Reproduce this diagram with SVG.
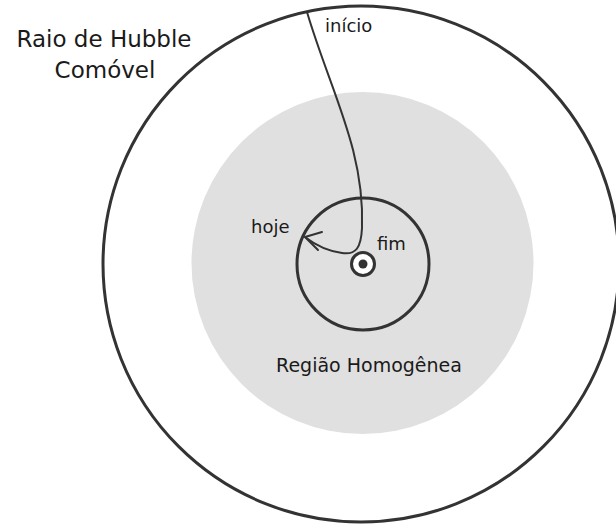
<svg xmlns="http://www.w3.org/2000/svg" width="616" height="529" viewBox="0 0 616 529">
<style>
.ring{fill:none;stroke:#333;stroke-width:3}
.t{font-family:"DejaVu Sans",sans-serif;fill:#1a1a1a}
.c{fill:none;stroke:#333;stroke-width:2;stroke-linecap:round;stroke-linejoin:round}
</style>
<rect width="616" height="529" fill="#fff"/>
<g id="outer">
<circle cx="361" cy="264" r="258" class="ring"/>
<text class="t" x="104" y="47" font-size="23" text-anchor="middle">Raio de Hubble</text>
<text class="t" x="105" y="78" font-size="23" text-anchor="middle">Comóvel</text>
</g>
<g id="homogeneous">
<circle cx="362.5" cy="263" r="171" fill="#e0e0e0"/>
<text class="t" x="369" y="372" font-size="19" text-anchor="middle">Região Homogênea</text>
</g>
<g id="inner">
<circle cx="363" cy="264" r="66" class="ring"/>
</g>
<g id="end">
<circle cx="363" cy="264" r="11.5" fill="#fff" stroke="#333" stroke-width="3"/>
<circle cx="363" cy="264" r="4.5" fill="#333"/>
<text class="t" x="377" y="250" font-size="18">fim</text>
</g>
<g id="labels">
<text class="t" x="325" y="32" font-size="18">início</text>
<text class="t" x="251" y="233" font-size="18">hoje</text>
</g>
<g id="connectors">
<path class="c" d="M307 12 C330 90 365 150 362 228 C361 248 356 255 342 253 C327 251 314 244 305 237"/>
<path class="c" d="M322 232 L305 237 L318 250"/>
</g>
</svg>
